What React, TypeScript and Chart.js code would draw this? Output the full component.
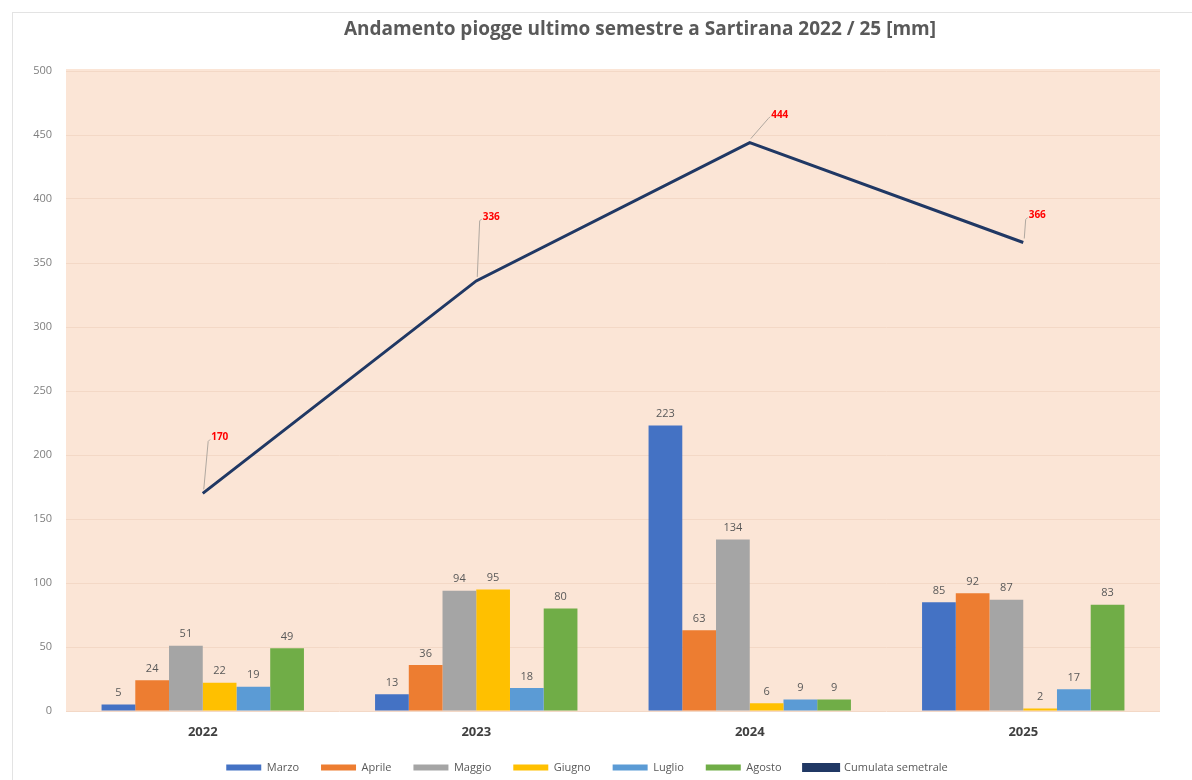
import React, { useEffect, useRef } from "react";
import { Chart, registerables } from "chart.js";

Chart.register(...registerables);

const categories = ["2022", "2023", "2024", "2025"];
const marzo = [5, 13, 223, 85];
const aprile = [24, 36, 63, 92];
const maggio = [51, 94, 134, 87];
const giugno = [22, 95, 6, 2];
const luglio = [19, 18, 9, 17];
const agosto = [49, 80, 9, 83];
const cumulata = [170, 336, 444, 366];

const titleText = "Andamento piogge ultimo semestre a Sartirana 2022 / 25 [mm]";
const FONT = "'Open Sans', 'DejaVu Sans', sans-serif";

// label offsets for the red line labels (style only)
const lineLabelOffsets = [
  [17, -56],
  [15, -64],
  [30, -28],
  [14, -27],
];

const framePlugin = {
  id: "frame",
  beforeDraw(chart: any) {
    const { ctx, chartArea, width, height } = chart;
    ctx.save();
    ctx.fillStyle = "#ffffff";
    ctx.fillRect(0, 0, width, height);
    ctx.strokeStyle = "#e3e3e3";
    ctx.lineWidth = 1;
    ctx.strokeRect(12.5, 12.5, width, height);
    ctx.fillStyle = "#fbe5d6";
    ctx.fillRect(chartArea.left, chartArea.top - 2, chartArea.right - chartArea.left, chartArea.bottom - chartArea.top + 2);
    ctx.restore();
  },
  afterDraw(chart: any) {
    const { ctx } = chart;
    ctx.save();
    ctx.font = "bold 19px " + FONT;
    ctx.fillStyle = "#595959";
    ctx.textAlign = "center";
    ctx.textBaseline = "middle";
    ctx.fillText(titleText, 640, 30);
    ctx.restore();
  },
};

const labelsPlugin = {
  id: "valueLabels",
  afterDatasetsDraw(chart: any) {
    const { ctx } = chart;
    ctx.save();
    chart.data.datasets.forEach((ds: any, di: number) => {
      const meta = chart.getDatasetMeta(di);
      if (ds.type === "line") {
        meta.data.forEach((pt: any, i: number) => {
          const [dx, dy] = lineLabelOffsets[i];
          const lx = pt.x + dx;
          const ly = pt.y + dy;
          ctx.font = "bold 10px " + FONT;
          const w = ctx.measureText(String(ds.data[i])).width;
          ctx.strokeStyle = "#b0a8a0";
          ctx.lineWidth = 1;
          ctx.beginPath();
          ctx.moveTo(pt.x + 1, pt.y - 4);
          ctx.lineTo(lx - w / 2 - 3, ly + 4);
          ctx.lineTo(lx - w / 2 - 1, ly + 2);
          ctx.stroke();
          ctx.fillStyle = "#ff0000";
          ctx.textAlign = "center";
          ctx.textBaseline = "middle";
          ctx.fillText(String(ds.data[i]), lx, ly);
        });
      } else {
        meta.data.forEach((bar: any, i: number) => {
          ctx.font = "11px " + FONT;
          ctx.fillStyle = "#595959";
          ctx.textAlign = "center";
          ctx.textBaseline = "bottom";
          ctx.fillText(String(ds.data[i]), bar.x, bar.y - 6);
        });
      }
    });
    ctx.restore();
  },
};

export default function App() {
  const ref = useRef<HTMLCanvasElement>(null);
  useEffect(() => {
    if (!ref.current) return;
    const bar = (label: string, data: number[], color: string) => ({
      type: "bar" as const,
      label,
      data,
      backgroundColor: color,
      borderWidth: 0,
      barPercentage: 1,
      categoryPercentage: 0.74,
    });
    const chart = new Chart(ref.current, {
      type: "bar",
      data: {
        labels: categories,
        datasets: [
          bar("Marzo", marzo, "#4472c4"),
          bar("Aprile", aprile, "#ed7d31"),
          bar("Maggio", maggio, "#a5a5a5"),
          bar("Giugno", giugno, "#ffc000"),
          bar("Luglio", luglio, "#5b9bd5"),
          bar("Agosto", agosto, "#70ad47"),
          {
            type: "line" as const,
            label: "Cumulata semetrale",
            data: cumulata,
            borderColor: "#203864",
            backgroundColor: "#203864",
            borderWidth: 3,
            pointRadius: 0,
            tension: 0,
          } as any,
        ],
      },
      options: {
        responsive: false,
        animation: false,
        layout: { padding: { top: 71, left: 14, right: 32, bottom: 2 } },
        plugins: {
          title: { display: false },
          legend: {
            position: "bottom",
            maxHeight: 38,
            labels: {
              color: "#595959",
              font: { family: FONT, size: 11 },
              boxWidth: 35,
              boxHeight: 6,
              padding: 22,
            },
          },
          tooltip: { enabled: false },
        },
        scales: {
          x: {
            afterFit: (s: any) => {
              s.height = 29;
            },
            grid: { display: false, drawTicks: false },
            border: { display: false },
            ticks: {
              color: "#404040",
              font: { family: FONT, size: 13, weight: "bold" },
              padding: 13,
            },
          },
          y: {
            min: 0,
            max: 500,
            afterFit: (s: any) => {
              s.width = 52;
            },
            grid: { color: "#f3d8c6", drawTicks: false },
            border: { display: false },
            ticks: {
              stepSize: 50,
              color: "#7f7f7f",
              font: { family: FONT, size: 11 },
              padding: 14,
            },
          },
        },
      },
      plugins: [framePlugin, labelsPlugin],
    });
    return () => chart.destroy();
  }, []);
  return (
    <div style={{ position: "fixed", left: 0, top: 0, width: 1192, height: 780 }}>
      <canvas ref={ref} width={1192} height={780} />
    </div>
  );
}
